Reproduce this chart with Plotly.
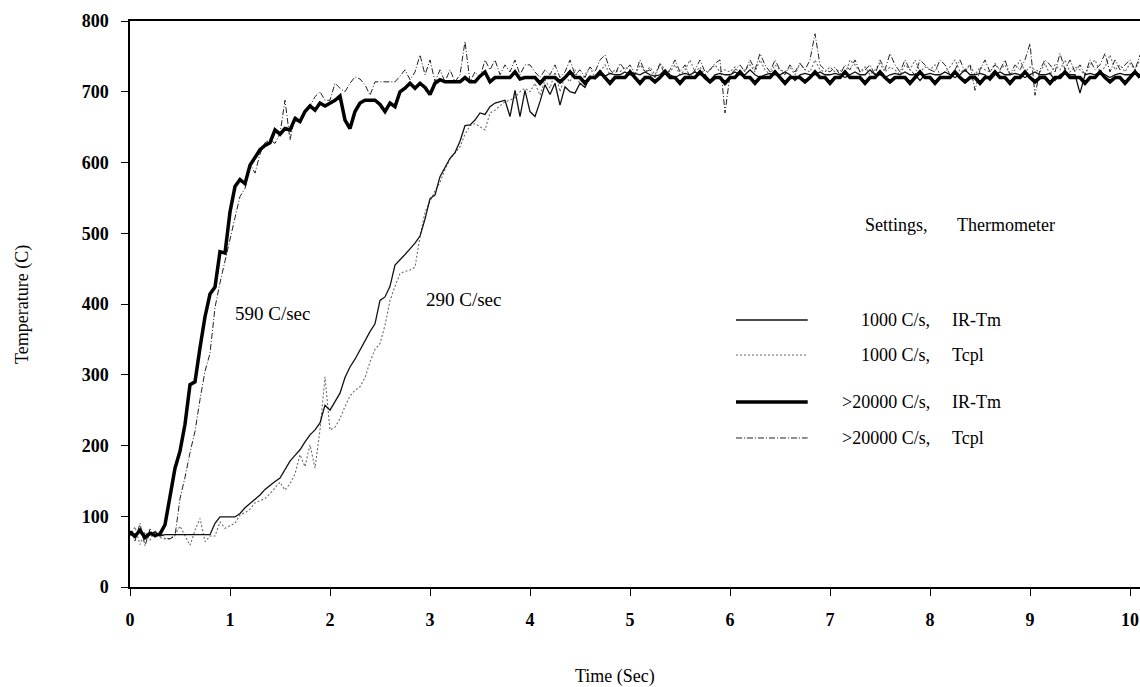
import plotly.graph_objects as go

# sample times (s), one reading every 0.05 s
time_s = [round(0.05 * i, 2) for i in range(203)]

# >20000 C/s, IR-Tm (thick solid)
fast_ir = [
    78, 72, 80, 70, 76, 73, 75, 88, 128, 168, 192, 230, 286, 290, 338, 382, 414, 424, 474, 472,
    530, 566, 576, 570, 596, 608, 618, 624, 628, 646, 640, 648, 646, 662, 658, 672, 680, 674, 684, 680,
    684, 688, 694, 660, 648, 672, 684, 688, 688, 688, 682, 672, 684, 679, 700, 705, 712, 705, 712, 706,
    696, 712, 717, 714, 714, 714, 714, 720, 714, 714, 722, 728, 714, 720, 720, 720, 720, 728, 718, 720,
    720, 720, 712, 720, 720, 720, 714, 720, 728, 720, 720, 712, 720, 720, 728, 720, 712, 720, 720, 720,
    728, 720, 712, 720, 720, 714, 720, 728, 720, 720, 712, 720, 720, 720, 728, 720, 714, 720, 720, 712,
    720, 720, 728, 720, 720, 712, 720, 720, 720, 728, 720, 712, 720, 720, 720, 714, 720, 728, 720, 720,
    712, 720, 720, 728, 720, 720, 720, 712, 720, 720, 728, 720, 714, 720, 720, 720, 712, 720, 728, 720,
    720, 712, 720, 720, 720, 728, 720, 714, 720, 720, 712, 720, 720, 728, 720, 720, 712, 720, 720, 728,
    720, 714, 720, 720, 712, 720, 720, 728, 720, 720, 720, 712, 720, 720, 728, 720, 714, 720, 720, 712,
    720, 728, 720,
]

# >20000 C/s, Tcpl (dash-dot)
fast_tc = [
    80, 65, 90, 58, 82, 70, 78, 69, 68, 72, 125, 155, 190, 220, 265, 305, 330, 395, 430, 462,
    490, 522, 552, 563, 598, 585, 612, 628, 632, 627, 641, 688, 632, 665, 660, 670, 680, 693, 700, 688,
    688, 712, 705, 700, 712, 721, 718, 710, 695, 714, 714, 714, 714, 714, 722, 731, 717, 728, 752, 724,
    745, 714, 731, 714, 731, 714, 724, 771, 714, 728, 720, 745, 731, 745, 724, 738, 728, 745, 724, 738,
    738, 728, 720, 731, 724, 738, 720, 728, 745, 724, 731, 720, 735, 728, 745, 752, 731, 724, 740, 731,
    738, 724, 745, 728, 731, 720, 740, 724, 731, 745, 728, 738, 720, 731, 745, 728, 731, 740, 745, 670,
    724, 731, 738, 728, 745, 731, 754, 738, 728, 745, 731, 724, 738, 728, 740, 731, 745, 782, 738, 731,
    728, 735, 724, 738, 731, 745, 728, 731, 738, 724, 745, 731, 754, 738, 728, 745, 731, 724, 745, 738,
    731, 728, 745, 738, 724, 731, 745, 728, 738, 702, 731, 745, 728, 738, 731, 745, 724, 738, 731, 745,
    768, 695, 731, 745, 738, 728, 754, 731, 745, 728, 738, 724, 745, 731, 738, 754, 728, 745, 731, 738,
    745, 731, 752,
]

# 1000 C/s, IR-Tm (thin solid)
slow_ir = [
    75, 70, 82, 68, 74, 78, 72, 74, 74, 74, 74, 74, 74, 74, 74, 74, 74, 90, 99, 99,
    99, 99, 104, 112, 118, 124, 130, 138, 144, 149, 154, 166, 178, 186, 194, 205, 215, 222, 232, 257,
    250, 262, 274, 296, 311, 322, 335, 349, 361, 372, 405, 410, 425, 455, 462, 470, 478, 486, 496, 520,
    549, 554, 580, 592, 606, 614, 630, 652, 653, 660, 670, 668, 679, 684, 686, 688, 665, 702, 665, 702,
    672, 665, 686, 710, 696, 712, 681, 707, 700, 698, 712, 706, 722, 718, 724, 722, 726, 724, 724, 728,
    724, 726, 724, 728, 724, 722, 724, 731, 724, 720, 724, 726, 724, 728, 724, 724, 716, 724, 726, 724,
    724, 728, 724, 724, 731, 724, 720, 724, 726, 724, 724, 728, 724, 716, 724, 726, 724, 724, 728, 724,
    724, 726, 724, 720, 724, 728, 724, 724, 731, 724, 724, 720, 724, 726, 724, 728, 724, 724, 716, 724,
    726, 724, 724, 728, 724, 720, 724, 731, 724, 724, 726, 724, 716, 724, 728, 724, 724, 726, 724, 720,
    724, 728, 724, 724, 726, 716, 724, 728, 724, 724, 698, 724, 726, 724, 728, 724, 720, 724, 726, 724,
    724, 728, 724,
]

# 1000 C/s, Tcpl (thin dotted)
slow_tc = [
    72, 85, 60, 78, 66, 80, 70, 68, 68, 74, 86, 72, 59, 80, 97, 64, 72, 72, 92, 83,
    86, 90, 102, 105, 110, 119, 122, 125, 132, 140, 148, 137, 146, 160, 187, 170, 201, 168, 222, 297,
    222, 226, 238, 255, 270, 278, 283, 296, 318, 336, 344, 370, 405, 425, 443, 446, 448, 452, 495, 530,
    545, 560, 572, 590, 605, 614, 622, 640, 652, 655, 650, 646, 670, 674, 680, 686, 688, 692, 700, 705,
    700, 712, 695, 717, 705, 728, 700, 722, 714, 731, 710, 724, 735, 720, 728, 738, 724, 731, 728, 735,
    731, 724, 738, 728, 735, 724, 740, 731, 728, 738, 724, 731, 745, 728, 735, 724, 731, 738, 728, 731,
    728, 735, 724, 731, 738, 728, 745, 731, 724, 738, 731, 728, 735, 724, 740, 731, 728, 745, 731, 728,
    735, 728, 731, 724, 745, 738, 728, 735, 724, 731, 740, 728, 735, 731, 724, 738, 731, 745, 728, 735,
    731, 738, 724, 728, 735, 745, 728, 731, 738, 724, 735, 731, 728, 740, 731, 738, 724, 731, 745, 728,
    735, 731, 728, 740, 724, 738, 731, 745, 728, 735, 731, 724, 738, 745, 728, 735, 752, 731, 738, 728,
    740, 731, 745,
]

x_ticks = list(range(0, 11))
y_ticks = list(range(0, 801, 100))

settings = ["1000 C/s,", "1000 C/s,", ">20000 C/s,", ">20000 C/s,"]
thermometers = ["IR-Tm", "Tcpl", "IR-Tm", "Tcpl"]

serif = "Liberation Serif, Times New Roman, serif"

styles = [
    dict(color="#111111", width=1.3),
    dict(color="#6a6a6a", width=1.1, dash="2px,2px"),
    dict(color="#000000", width=3.5),
    dict(color="#222222", width=1.0, dash="6px,2px,1px,2px"),
]
series = [slow_ir, slow_tc, fast_ir, fast_tc]
draw_order = [1, 0, 3, 2]

fig = go.Figure()
for i in draw_order:
    fig.add_trace(go.Scatter(
        x=time_s, y=series[i], mode="lines",
        line=styles[i], name=settings[i] + " " + thermometers[i],
        showlegend=False,
    ))

# hand-made key, like the original
row_y = [0.4717, 0.4099, 0.3269, 0.2633]
for i in range(4):
    st = styles[i]
    fig.add_shape(type="line", xref="paper", yref="paper",
                  x0=0.600, x1=0.671, y0=row_y[i], y1=row_y[i],
                  line=dict(color=st["color"], width=st["width"], dash=st.get("dash", "solid")))
    fig.add_annotation(xref="paper", yref="paper", x=0.794, y=row_y[i],
                       text=settings[i], showarrow=False, xanchor="right", yanchor="middle",
                       font=dict(family=serif, size=18, color="black"))
    fig.add_annotation(xref="paper", yref="paper", x=0.812, y=row_y[i],
                       text=thermometers[i], showarrow=False, xanchor="left", yanchor="middle",
                       font=dict(family=serif, size=18, color="black"))

fig.add_annotation(xref="paper", yref="paper", x=0.792, y=0.6396, text="Settings,",
                   showarrow=False, xanchor="right", yanchor="middle",
                   font=dict(family=serif, size=18, color="black"))
fig.add_annotation(xref="paper", yref="paper", x=0.817, y=0.6396, text="Thermometer",
                   showarrow=False, xanchor="left", yanchor="middle",
                   font=dict(family=serif, size=18, color="black"))

# rate labels
fig.add_annotation(x=1.42, y=386, text="590 C/sec", showarrow=False,
                   font=dict(family=serif, size=19, color="black"))
fig.add_annotation(x=3.33, y=407, text="290 C/sec", showarrow=False,
                   font=dict(family=serif, size=19, color="black"))

# axis titles
fig.add_annotation(xref="paper", yref="paper", x=-0.107, y=0.50, text="Temperature (C)",
                   textangle=-90, showarrow=False, xanchor="center", yanchor="middle",
                   font=dict(family=serif, size=18, color="black"))
fig.add_annotation(xref="paper", yref="paper", x=0.480, y=-0.159, text="Time (Sec)",
                   showarrow=False, xanchor="center", yanchor="middle",
                   font=dict(family=serif, size=18, color="black"))

fig.update_layout(
    width=1140, height=687,
    margin=dict(l=130, r=0, t=21, b=100),
    paper_bgcolor="white", plot_bgcolor="white",
    font=dict(family=serif, color="black"),
)
fig.update_xaxes(
    range=[0, 10.1], tickvals=x_ticks, ticks="outside", ticklen=7, tickwidth=1.2,
    tickcolor="black", showline=True, linecolor="black", linewidth=1.5, mirror=True,
    showgrid=False, zeroline=False, ticklabelstandoff=9, automargin=False,
    tickfont=dict(family=serif, size=18, color="black", weight="bold"),
)
fig.update_yaxes(
    range=[0, 800], tickvals=y_ticks, ticks="outside", ticklen=7, tickwidth=1.2,
    tickcolor="black", showline=True, linecolor="black", linewidth=1.5,
    showgrid=False, zeroline=False, ticklabelstandoff=9, automargin=False,
    tickfont=dict(family=serif, size=18, color="black", weight="bold"),
)

# drop the page's default body margin so the figure fills the window exactly
fig.write_html("out.html", config={"displayModeBar": False},
               post_script="document.body.style.margin='0';document.body.style.overflow='hidden';")
